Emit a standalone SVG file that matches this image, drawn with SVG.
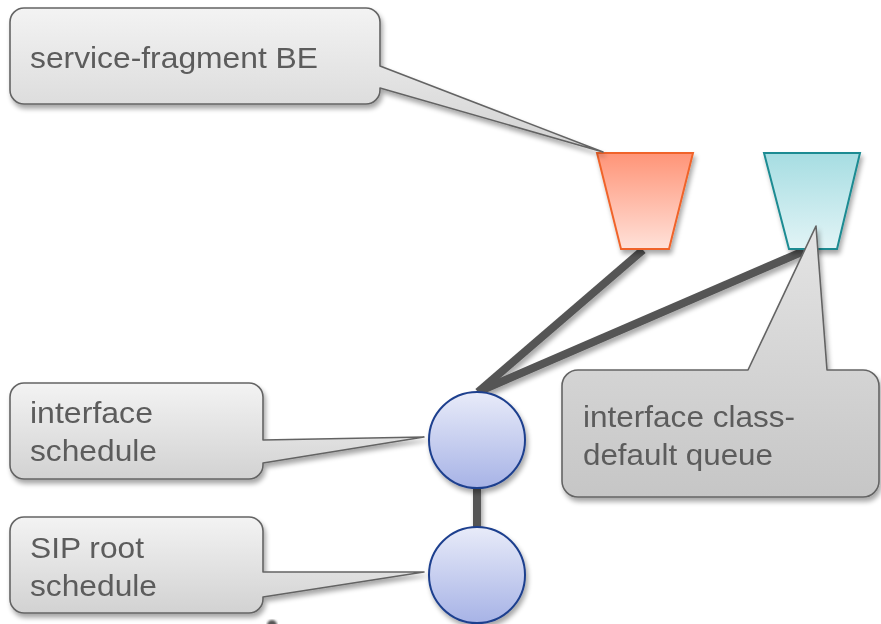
<svg xmlns="http://www.w3.org/2000/svg" width="881" height="624" viewBox="0 0 881 624">
  <defs>
    <linearGradient id="calloutFill" x1="0" y1="0" x2="0" y2="1">
      <stop offset="0" stop-color="#f3f3f3"/>
      <stop offset="1" stop-color="#d2d2d2"/>
    </linearGradient>
    <linearGradient id="calloutFillDark" x1="0" y1="0" x2="0" y2="1">
      <stop offset="0" stop-color="#e4e4e4"/>
      <stop offset="1" stop-color="#c6c6c6"/>
    </linearGradient>
    <linearGradient id="orangeFill" x1="0" y1="0" x2="0" y2="1">
      <stop offset="0" stop-color="#ff9477"/>
      <stop offset="1" stop-color="#ffe1d9"/>
    </linearGradient>
    <linearGradient id="tealFill" x1="0" y1="0" x2="0" y2="1">
      <stop offset="0" stop-color="#a6dde2"/>
      <stop offset="1" stop-color="#e2f4f6"/>
    </linearGradient>
    <linearGradient id="circleFill" x1="0" y1="0" x2="0" y2="1">
      <stop offset="0" stop-color="#e8ebf9"/>
      <stop offset="1" stop-color="#a7b3e6"/>
    </linearGradient>
    <filter id="shadow" x="-20%" y="-20%" width="140%" height="150%">
      <feGaussianBlur in="SourceAlpha" stdDeviation="2.5"/>
      <feOffset dx="2" dy="4" result="b"/>
      <feComponentTransfer><feFuncA type="linear" slope="0.35"/></feComponentTransfer>
      <feMerge><feMergeNode/><feMergeNode in="SourceGraphic"/></feMerge>
    </filter>
    <filter id="blur"><feGaussianBlur stdDeviation="1.2"/></filter>
  </defs>
  <style>
    .callout { fill: url(#calloutFill); stroke: #646464; stroke-width: 1.6; stroke-linejoin: round; }
    .calloutDark { fill: url(#calloutFillDark); stroke: #646464; stroke-width: 1.6; stroke-linejoin: round; }
    .label { font-family: "Liberation Sans", Arial, sans-serif; font-size: 29px; fill: #5c5c5c; }
    .link { stroke: #555555; stroke-width: 8; fill: none; }
    .sched { fill: url(#circleFill); stroke: #1e3f8e; stroke-width: 2; }
  </style>

  <!-- connectors -->
  <g id="connectors" filter="url(#shadow)">
    <line class="link" x1="643" y1="250" x2="478" y2="392"/>
    <line class="link" x1="804" y1="251" x2="480" y2="391"/>
    <line class="link" x1="477" y1="486" x2="477" y2="530"/>
  </g>

  <!-- queues -->
  <g id="queue-be" filter="url(#shadow)">
    <polygon points="597,153 693,153 669,249 621,249" fill="url(#orangeFill)" stroke="#f0642a" stroke-width="2"/>
  </g>
  <g id="queue-class-default" filter="url(#shadow)">
    <polygon points="764,153 860,153 837,249 789,249" fill="url(#tealFill)" stroke="#1b8b92" stroke-width="2"/>
  </g>

  <!-- schedulers -->
  <g id="interface-schedule" filter="url(#shadow)">
    <circle class="sched" cx="477" cy="440" r="48"/>
  </g>
  <g id="sip-root-schedule" filter="url(#shadow)">
    <circle class="sched" cx="477" cy="575" r="48"/>
  </g>

  <!-- partial mark at bottom edge -->
  <g id="edge-mark">
    <ellipse cx="272" cy="625" rx="5" ry="5" fill="#555555" filter="url(#blur)"/>
  </g>

  <!-- callouts -->
  <g id="callout-service-fragment" filter="url(#shadow)">
    <path class="callout" d="M24,8 H366 A14,14 0 0 1 380,22 V66 L603,152 L380,88 V90 A14,14 0 0 1 366,104 H24 A14,14 0 0 1 10,90 V22 A14,14 0 0 1 24,8 Z"/>
    <text class="label" x="30" y="68" textLength="288" lengthAdjust="spacingAndGlyphs">service-fragment BE</text>
  </g>

  <g id="callout-interface-schedule" filter="url(#shadow)">
    <path class="callout" d="M24,383 H249 A14,14 0 0 1 263,397 V440 L424,437 L263,463 V465 A14,14 0 0 1 249,479 H24 A14,14 0 0 1 10,465 V397 A14,14 0 0 1 24,383 Z"/>
    <text class="label" x="30" y="423" textLength="123" lengthAdjust="spacingAndGlyphs">interface</text>
    <text class="label" x="30" y="461" textLength="127" lengthAdjust="spacingAndGlyphs">schedule</text>
  </g>

  <g id="callout-sip-root" filter="url(#shadow)">
    <path class="callout" d="M24,517 H249 A14,14 0 0 1 263,531 V572 L424,572 L263,597 V599 A14,14 0 0 1 249,613 H24 A14,14 0 0 1 10,599 V531 A14,14 0 0 1 24,517 Z"/>
    <text class="label" x="30" y="558" textLength="114" lengthAdjust="spacingAndGlyphs">SIP root</text>
    <text class="label" x="30" y="596" textLength="127" lengthAdjust="spacingAndGlyphs">schedule</text>
  </g>

  <g id="callout-class-default" filter="url(#shadow)">
    <path class="calloutDark" d="M578,370 H748 L816,226 L827,370 H863 A16,16 0 0 1 879,386 V481 A16,16 0 0 1 863,497 H578 A16,16 0 0 1 562,481 V386 A16,16 0 0 1 578,370 Z"/>
    <text class="label" x="583" y="427" textLength="212" lengthAdjust="spacingAndGlyphs">interface class-</text>
    <text class="label" x="583" y="465" textLength="190" lengthAdjust="spacingAndGlyphs">default queue</text>
  </g>
</svg>
